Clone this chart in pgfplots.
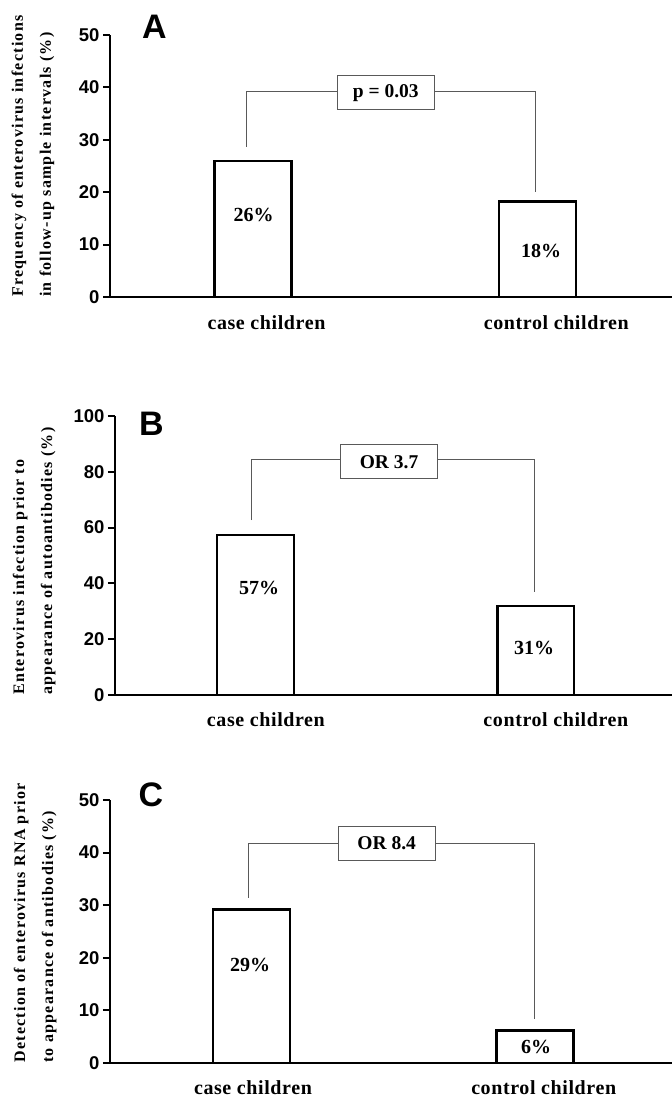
\documentclass[border=0pt]{standalone}
\usepackage{fontspec}
\setmainfont{Liberation Serif}
\newfontfamily\ticksf{Liberation Sans}
\newfontfamily\catf[LetterSpace=3]{Liberation Serif}
\newfontfamily\ylabf[LetterSpace=8]{Liberation Serif}
\usepackage{pgfplots}
\pgfplotsset{compat=1.18}
\definecolor{brk}{gray}{0.35}
\pgfplotsset{panel/.style={
  scale only axis, anchor=south west, clip=false,
  axis x line=bottom, axis y line=left,
  axis line style={-, line width=2.4pt, black},
  xtick=\empty, tick align=outside, major tick length=7pt,
  ytick style={line width=2pt, black},
  yticklabel style={font=\ticksf\bfseries\fontsize{18.5}{20}\selectfont},
  /pgf/number format/assume math mode=true,
  ymin=0, xmax=672,
}}
\tikzset{
  pct/.style={font=\bfseries\fontsize{20}{22}\selectfont, inner sep=0pt},
  cat/.style={font=\catf\bfseries\fontsize{20}{22}\selectfont, inner sep=0pt},
  ylab/.style={rotate=90, anchor=west, align=left, inner sep=0pt,
    font=\ylabf\bfseries\fontsize{16}{28}\selectfont},
  letter/.style={font=\ticksf\bfseries\fontsize{34}{34}\selectfont, inner sep=0pt},
  obox/.style={draw=brk, line width=0.9pt, fill=white, minimum width=97pt,
    minimum height=34pt, inner sep=0pt, font=\bfseries\fontsize{19.5}{21}\selectfont},
}
\begin{document}
\begin{tikzpicture}
\useasboundingbox (0,0) rectangle (672pt,1098pt);
% ---------------- Panel A ----------------
\begin{axis}[panel, at={(110pt,801pt)}, width=562pt, height=262pt,
  xmin=110, ymax=50, ytick={0,10,20,30,40,50}]
\addplot[ybar, bar width=77, draw=black, line width=2.4pt, fill=white]
  coordinates {(253,26) (537.5,18.2)};
\addplot[draw=brk, line width=0.9pt, mark=none] coordinates {(246.7,28.7) (246.7,39.3) (386,39.3) (535,39.3) (535,20.1)};
\node[obox] at (axis cs:385.8,38.95) {p = 0.03};
\node[pct] at (axis cs:253.5,15.7) {26\%};
\node[pct] at (axis cs:541,8.7) {18\%};
\node[cat, yshift=-26pt] at (axis cs:266.5,0) {case children};
\node[cat, yshift=-26pt] at (axis cs:556.3,0) {control children};
\node[letter] at (axis cs:154.5,51.5) {A};
\node[ylab] at (axis cs:33,0) {Frequency of enterovirus infections\\in follow-up sample intervals (\%)};
\end{axis}
% ---------------- Panel B ----------------
\begin{axis}[panel, at={(115pt,403pt)}, width=557pt, height=279pt,
  xmin=115, ymax=100, ytick={0,20,40,60,80,100}]
\addplot[ybar, bar width=76.5, draw=black, line width=2.4pt, fill=white]
  coordinates {(255.5,57.3) (535.8,32)};
\addplot[draw=brk, line width=0.9pt, mark=none] coordinates {(251.7,62.7) (251.7,84.5) (389,84.5) (534.3,84.5) (534.3,36.8)};
\node[obox] at (axis cs:389,83.6) {OR 3.7};
\node[pct] at (axis cs:259,38.2) {57\%};
\node[pct] at (axis cs:534,16.8) {31\%};
\node[cat, yshift=-25pt] at (axis cs:265.9,0) {case children};
\node[cat, yshift=-25pt] at (axis cs:555.9,0) {control children};
\node[letter] at (axis cs:151.5,97.1) {B};
\node[ylab] at (axis cs:34.2,0) {Enterovirus infection prior to\\appearance of autoantibodies (\%)};
\end{axis}
% ---------------- Panel C ----------------
\begin{axis}[panel, at={(110pt,35pt)}, width=562pt, height=263pt,
  xmin=110, ymax=50, ytick={0,10,20,30,40,50}]
\addplot[ybar, bar width=77, draw=black, line width=2.4pt, fill=white]
  coordinates {(251.2,29.2) (535,6.2)};
\addplot[draw=brk, line width=0.9pt, mark=none] coordinates {(248.3,31.4) (248.3,41.7) (386.7,41.7) (534,41.7) (534,8.4)};
\node[obox] at (axis cs:386.7,41.75) {OR 8.4};
\node[pct] at (axis cs:250,18.7) {29\%};
\node[pct] at (axis cs:536,3.1) {6\%};
\node[cat, yshift=-25pt] at (axis cs:253,0) {case children};
\node[cat, yshift=-25pt] at (axis cs:543.7,0) {control children};
\node[letter] at (axis cs:151,50.95) {C};
\node[ylab] at (axis cs:35.2,0) {Detection of enterovirus RNA prior\\to appearance of antibodies (\%)};
\end{axis}
\end{tikzpicture}
\end{document}
